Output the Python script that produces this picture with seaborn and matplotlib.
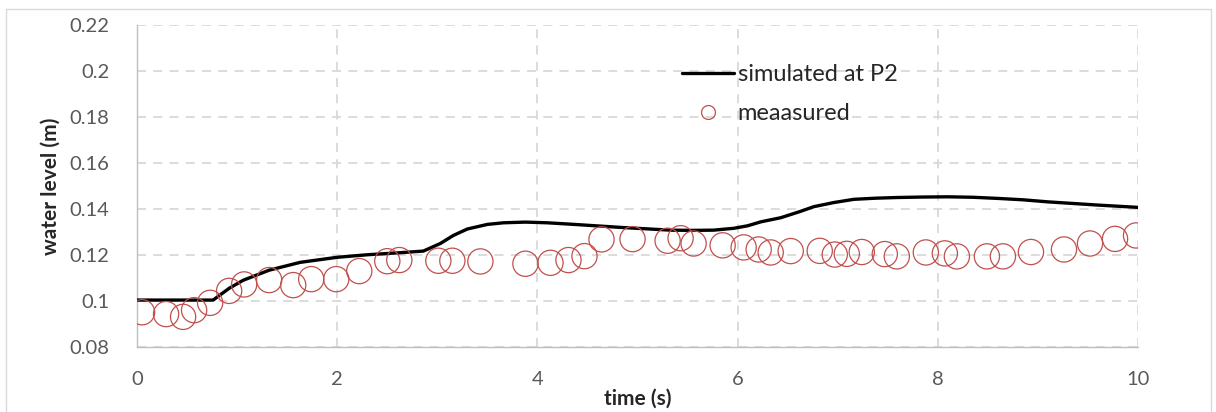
import matplotlib
matplotlib.use("Agg")
import matplotlib.pyplot as plt
from matplotlib.lines import Line2D
from matplotlib.patches import Rectangle
import pandas as pd
import seaborn as sns

# Simulated water level at gauge P2
sim_time = [0.0, 0.40, 0.76, 0.92, 1.06, 1.32, 1.63, 2.00, 2.30, 2.63, 2.86, 3.03,
            3.16, 3.30, 3.50, 3.66, 3.88, 4.10, 4.33, 4.58, 4.83, 5.08, 5.33, 5.55,
            5.76, 5.96, 6.10, 6.23, 6.43, 6.63, 6.76, 6.96, 7.16, 7.38, 7.60, 7.85,
            8.10, 8.35, 8.60, 8.85, 9.10, 9.35, 9.60, 9.80, 10.0]
sim_level = [0.1004, 0.1004, 0.1004, 0.1055, 0.1090, 0.1134, 0.1168, 0.1190, 0.1201,
             0.1210, 0.1217, 0.1250, 0.1285, 0.1313, 0.1333, 0.1340, 0.1343, 0.1340,
             0.1334, 0.1327, 0.1320, 0.1314, 0.1308, 0.1307, 0.1308, 0.1316, 0.1327,
             0.1344, 0.1362, 0.1390, 0.1410, 0.1428, 0.1442, 0.1447, 0.1450, 0.1452,
             0.1453, 0.1451, 0.1446, 0.1440, 0.1431, 0.1424, 0.1417, 0.1412, 0.1407]

# Measured water level
meas_time = [0.05, 0.29, 0.46, 0.57, 0.73, 0.92, 1.07, 1.32, 1.56, 1.74, 1.99, 2.22,
             2.50, 2.62, 3.01, 3.15, 3.43, 3.88, 4.13, 4.31, 4.47, 4.64, 4.95, 5.30,
             5.43, 5.56, 5.85, 6.06, 6.21, 6.33, 6.53, 6.82, 6.97, 7.09, 7.24, 7.47,
             7.59, 7.88, 8.07, 8.19, 8.49, 8.65, 8.93, 9.26, 9.52, 9.77, 9.98]
meas_level = [0.0951, 0.0943, 0.0931, 0.0960, 0.0992, 0.1044, 0.1072, 0.1091, 0.1069,
              0.1095, 0.1095, 0.1130, 0.1173, 0.1178, 0.1175, 0.1175, 0.1172, 0.1162,
              0.1166, 0.1178, 0.1195, 0.1268, 0.1269, 0.1262, 0.1273, 0.1250, 0.1242,
              0.1233, 0.1224, 0.1211, 0.1217, 0.1218, 0.1202, 0.1205, 0.1213, 0.1204,
              0.1194, 0.1211, 0.1207, 0.1194, 0.1194, 0.1194, 0.1213, 0.1224, 0.1250,
              0.1270, 0.1285]

x_ticks = [0, 2, 4, 6, 8, 10]
y_ticks = [0.08, 0.10, 0.12, 0.14, 0.16, 0.18, 0.20, 0.22]
y_tick_labels = ["0.08", "0.1", "0.12", "0.14", "0.16", "0.18", "0.2", "0.22"]

sim_df = pd.DataFrame({"time": sim_time, "level": sim_level})
meas_df = pd.DataFrame({"time": meas_time, "level": meas_level})

sns.set_theme(style="white")
plt.rcParams["font.family"] = ["Lato", "DejaVu Sans"]

RED = "#C0504D"
GRID = "#D9D9D9"
TICK = "#595959"

fig = plt.figure(figsize=(12.16, 4.12), dpi=100)
ax = fig.add_axes([0.1127, 0.1578, 0.8232, 0.7815])

# Chart-area border (its lower edge runs past the bottom of the figure)
fig.patches.append(Rectangle((6 / 1216, -20 / 412), 1205 / 1216, 423 / 412,
                             transform=fig.transFigure, fill=False,
                             edgecolor="#D9D9D9", linewidth=1.0))

sns.lineplot(data=sim_df, x="time", y="level", ax=ax, color="black",
             linewidth=2.4, estimator=None, sort=False, zorder=3)
sns.scatterplot(data=meas_df, x="time", y="level", ax=ax, marker="o", s=330,
                facecolors="none", edgecolor=RED, linewidth=0.9, zorder=4)

ax.set_xlim(0, 10)
ax.set_ylim(0.08, 0.22)
ax.set_xticks(x_ticks)
ax.set_xticklabels([str(t) for t in x_ticks])
ax.set_yticks(y_ticks)
ax.set_yticklabels(y_tick_labels)
ax.tick_params(axis="both", length=0, labelsize=14.5, labelcolor=TICK)
ax.tick_params(axis="x", pad=17)
ax.tick_params(axis="y", pad=20)

ax.grid(True, color=GRID, linestyle=(0, (5, 4)), linewidth=1.3)
ax.set_axisbelow(True)
for side in ["top", "right"]:
    ax.spines[side].set_visible(False)
for side in ["left", "bottom"]:
    ax.spines[side].set_color("#BFBFBF")
    ax.spines[side].set_linewidth(1.0)

ax.set_xlabel("time (s)", fontsize=15, fontweight="bold", color="#262626", labelpad=1)
ax.set_ylabel("water level (m)", fontsize=15, fontweight="bold", color="#262626", labelpad=6)

handles = [
    Line2D([], [], color="black", linewidth=2.4),
    Line2D([], [], color=RED, marker="o", markersize=10, markerfacecolor="none",
           markeredgewidth=0.9, linestyle="none"),
]
ax.legend(handles, ["simulated at P2", "meaasured"], loc="upper left",
          bbox_to_anchor=(0.535, 0.907), frameon=False, fontsize=17,
          handlelength=2.2, handletextpad=0.15, labelspacing=0.75,
          labelcolor="#262626", borderaxespad=0)

fig.savefig("out.png", dpi=100)
